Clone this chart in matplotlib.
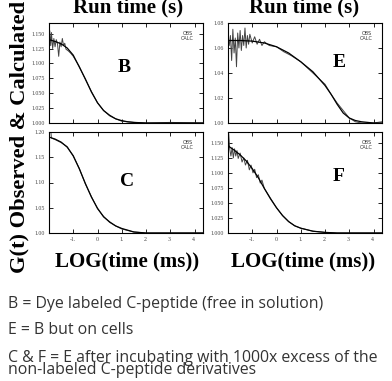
import matplotlib
matplotlib.use("Agg")
import matplotlib.pyplot as plt
import numpy as np

plt.rcParams['font.family'] = 'serif'
plt.rcParams['font.serif'] = ['Liberation Serif', 'DejaVu Serif']

# calculated curves (log10 time in ms, G(t))
x_calc_b = [-2.0, -1.75, -1.5, -1.25, -1.0, -0.75, -0.5, -0.25, 0.0, 0.25, 0.5, 0.75, 1.0, 1.25, 1.5, 2.0, 3.0, 4.35]
g_calc_b = [1.140, 1.137, 1.133, 1.126, 1.114, 1.094, 1.074, 1.052, 1.034, 1.021, 1.013, 1.007, 1.004, 1.002, 1.001, 1.000, 1.000, 1.000]

x_calc_e = [-2.0, -1.5, -1.0, -0.5, 0.0, 0.5, 1.0, 1.5, 2.0, 2.25, 2.5, 2.75, 3.0, 3.25, 3.5, 4.0, 4.35]
g_calc_e = [1.066, 1.066, 1.0655, 1.064, 1.061, 1.056, 1.049, 1.041, 1.030, 1.023, 1.015, 1.008, 1.004, 1.002, 1.001, 1.000, 1.000]

x_calc_c = [-2.0, -1.75, -1.5, -1.25, -1.0, -0.75, -0.5, -0.25, 0.0, 0.25, 0.5, 0.75, 1.0, 1.5, 2.0, 4.35]
g_calc_c = [1.190, 1.186, 1.180, 1.170, 1.153, 1.127, 1.098, 1.071, 1.049, 1.032, 1.022, 1.014, 1.009, 1.002, 1.000, 1.000]

x_calc_f = [-2.0, -1.75, -1.5, -1.25, -1.0, -0.75, -0.5, -0.25, 0.0, 0.25, 0.5, 0.75, 1.0, 1.5, 2.0, 2.5, 4.35]
g_calc_f = [1.145, 1.138, 1.130, 1.120, 1.107, 1.092, 1.074, 1.057, 1.042, 1.029, 1.019, 1.012, 1.008, 1.003, 1.001, 1.000, 1.000]

# observed curves (noisy at short times)
x_obs_b = [-2.0, -1.97, -1.93, -1.9, -1.85, -1.8, -1.75, -1.7, -1.65, -1.6, -1.55, -1.5, -1.45, -1.4, -1.35, -1.3, -1.2, -1.1, -1.0,
           -0.75, -0.5, -0.25, 0.0, 0.25, 0.5, 0.75, 1.0, 1.5, 2.0, 3.0, 4.35]
g_obs_b = [1.150, 1.155, 1.130, 1.152, 1.125, 1.142, 1.128, 1.140, 1.133, 1.112, 1.136, 1.128, 1.142, 1.130, 1.134, 1.124, 1.121, 1.117, 1.112,
           1.095, 1.073, 1.053, 1.034, 1.021, 1.012, 1.007, 1.003, 1.001, 1.000, 1.001, 1.000]

x_obs_e = [-1.98, -1.95, -1.9, -1.85, -1.8, -1.75, -1.7, -1.65, -1.6, -1.55, -1.5, -1.45, -1.4, -1.35, -1.3, -1.25, -1.2, -1.15, -1.1,
           -1.0, -0.9, -0.8, -0.7, -0.6, -0.5, -0.3, 0.0, 0.3, 0.6, 1.0, 1.5, 2.0, 2.25, 2.5, 2.75, 3.0, 3.25, 3.5, 4.0, 4.35]
g_obs_e = [1.066, 1.062, 1.070, 1.050, 1.075, 1.056, 1.068, 1.045, 1.072, 1.060, 1.074, 1.058, 1.070, 1.062, 1.076, 1.060, 1.070, 1.063, 1.071,
           1.064, 1.069, 1.063, 1.067, 1.062, 1.065, 1.062, 1.061, 1.057, 1.054, 1.049, 1.040, 1.031, 1.023, 1.016, 1.010, 1.004, 1.001, 1.000, 1.000, 1.001]

x_obs_c = [-2.0, -1.98, -1.92, -1.9, -1.85, -1.75, -1.5, -1.25, -1.0, -0.75, -0.5, -0.25, 0.0, 0.25, 0.5, 0.75, 1.0, 1.5, 2.0, 3.0, 4.35]
g_obs_c = [1.185, 1.199, 1.199, 1.188, 1.187, 1.185, 1.179, 1.171, 1.152, 1.128, 1.097, 1.072, 1.048, 1.033, 1.021, 1.014, 1.008, 1.002, 1.000, 1.000, 1.000]

x_obs_f = [-2.0, -1.97, -1.93, -1.88, -1.83, -1.78, -1.73, -1.68, -1.63, -1.58, -1.5, -1.42, -1.35, -1.28, -1.2, -1.12, -1.05, -0.97,
           -0.9, -0.82, -0.75, -0.67, -0.6, -0.5, -0.25, 0.0, 0.25, 0.5, 0.75, 1.0, 1.5, 2.0, 2.5, 3.0, 4.35]
g_obs_f = [1.150, 1.165, 1.140, 1.128, 1.142, 1.125, 1.140, 1.128, 1.137, 1.124, 1.133, 1.118, 1.125, 1.113, 1.121, 1.105, 1.113, 1.100,
           1.106, 1.092, 1.097, 1.083, 1.088, 1.074, 1.058, 1.042, 1.029, 1.019, 1.012, 1.008, 1.003, 1.001, 1.000, 1.000, 1.000]

x_ticks = [-1, 0, 1, 2, 3, 4]
x_tick_labels = ['-1.', '0.', '1.', '2.', '3.', '4.']

panels = [
    # label, rect, x_obs, g_obs, x_calc, g_calc, ylim, yticks, fmt, letter pos, bottom row
    ('B', [49, 23, 154, 100], x_obs_b, g_obs_b, x_calc_b, g_calc_b, (1.0, 1.168), [1.0, 1.025, 1.05, 1.075, 1.1, 1.125, 1.15], '%.3f', (0.49, 0.55), False),
    ('E', [228, 23, 154, 100], x_obs_e, g_obs_e, x_calc_e, g_calc_e, (1.0, 1.08), [1.0, 1.02, 1.04, 1.06, 1.08], '%.2f', (0.72, 0.605), False),
    ('C', [49, 132, 154, 101], x_obs_c, g_obs_c, x_calc_c, g_calc_c, (1.0, 1.2), [1.0, 1.05, 1.1, 1.15, 1.2], '%.2f', (0.506, 0.51), True),
    ('F', [228, 132, 154, 101], x_obs_f, g_obs_f, x_calc_f, g_calc_f, (1.0, 1.168), [1.0, 1.025, 1.05, 1.075, 1.1, 1.125, 1.15], '%.3f', (0.72, 0.56), True),
]

W, H = 392, 381
fig = plt.figure(figsize=(W / 100, H / 100), dpi=100)

for letter, (px, py, pw, ph), xo, go, xc, gc, ylim, yticks, fmt, lpos, bottom in panels:
    ax = fig.add_axes([px / W, 1 - (py + ph) / H, pw / W, ph / H])
    ax.plot(xo, go, color='#444444', linewidth=0.7)
    ax.plot(xc, gc, color='black', linewidth=0.9)
    ax.set_xlim(-2.0, 4.35)
    ax.set_ylim(*ylim)
    ax.set_xticks(x_ticks)
    ax.set_yticks(yticks)
    ax.set_yticklabels([fmt % v for v in yticks])
    if bottom:
        ax.set_xticklabels(x_tick_labels)
    else:
        ax.set_xticklabels([])
    ax.tick_params(direction='in', length=3, width=0.6, top=True, right=True,
                   labelsize=4.2, labelcolor='#444444', pad=3)
    for s in ax.spines.values():
        s.set_linewidth(0.8)
    ax.text(lpos[0], lpos[1], letter, transform=ax.transAxes, ha='center', va='center',
            fontsize=14, fontweight='bold')
    ax.text(0.9, 0.87, 'OBS\nCALC', transform=ax.transAxes, ha='center', va='center',
            fontsize=3.5, color='#333333', linespacing=1.1, family='DejaVu Sans')

# column titles and axis labels
for cx in [128, 304]:
    fig.text(cx / W, 1 - 12.5 / H, 'Run time (s)', ha='center', va='baseline',
             fontsize=15, fontweight='bold')
    fig.text((cx - 1) / W, 1 - 266 / H, 'LOG(time (ms))', ha='center', va='baseline',
             fontsize=15, fontweight='bold')

fig.text(19 / W, 1 - 137 / H, 'G(t) Observed & Calculated', rotation=90, ha='center', va='center',
         fontsize=16.2, fontweight='bold')

notes = [
    ('B = Dye labeled C-peptide (free in solution)', 308),
    ('E = B but on cells', 334),
    ('C & F = E after incubating with 1000x excess of the', 362),
    ('non-labeled C-peptide derivatives', 374),
]
for txt, by in notes:
    fig.text(8 / W, 1 - by / H, txt, ha='left', va='baseline', fontsize=11.4,
             family='Open Sans', color='#333333')

fig.savefig('out.png', dpi=100)
